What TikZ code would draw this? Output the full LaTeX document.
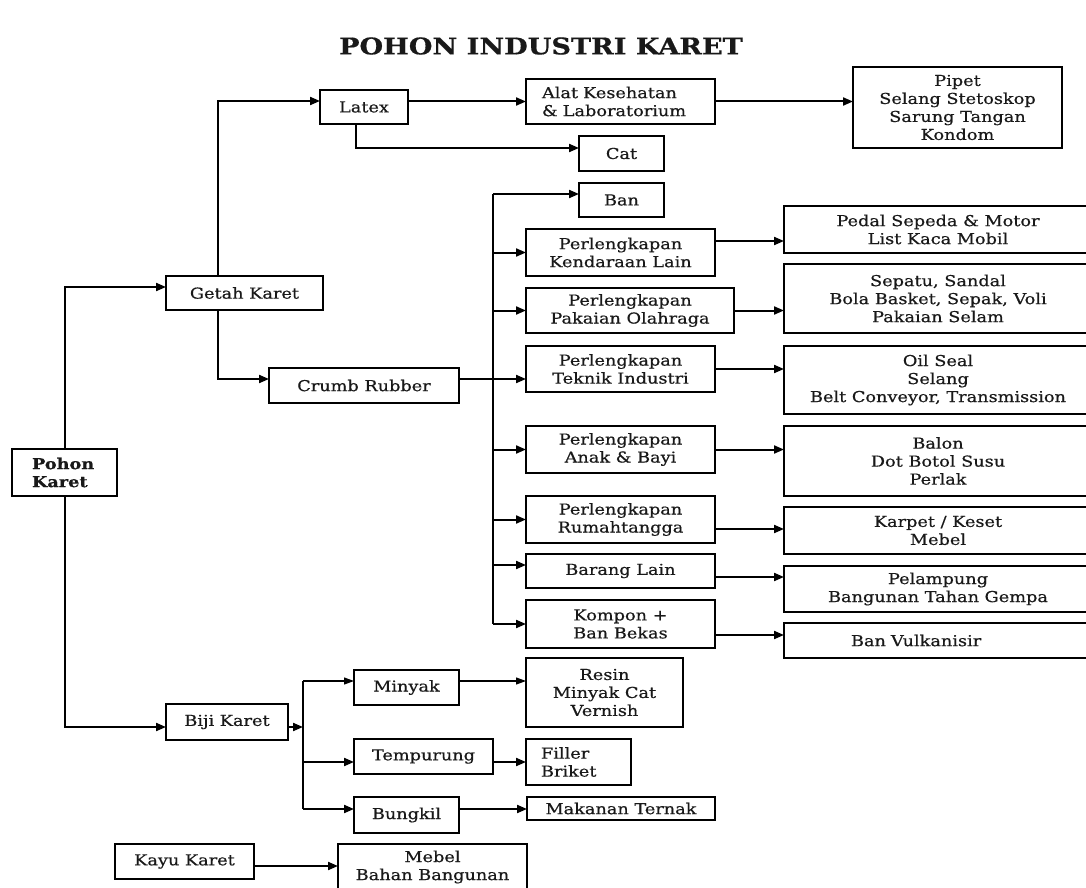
\documentclass[tikz,border=0pt]{standalone}
\usepackage{fontspec}
\setmainfont{DejaVu Serif}[FakeStretch=1.18, FakeBold=0.6]
\usetikzlibrary{arrows.meta}
\begin{document}
\begin{tikzpicture}[x=1pt,y=-1pt,
  box/.style={draw=black, line width=1.7pt, rectangle, inner sep=0pt, outer sep=0pt,
    align=center, font=\fontsize{15}{18}\selectfont, text=black!90},
  conn/.style={line width=2pt, -{Triangle[length=10pt,width=8pt]}},
  slim/.style={line width=1.1pt, -{Triangle[length=10pt,width=7pt]}},
  bus/.style={line width=2pt},
  slimbus/.style={line width=1.1pt},
]
\useasboundingbox (0,0) rectangle (1086,888);
\clip (0,0) rectangle (1086,888);

% title
\node[font=\fontsize{23}{26}\selectfont\bfseries, text=black!90] (title) at (541,46) {POHON INDUSTRI KARET};

% left column
\node[box, minimum width=105pt, minimum height=47pt, text width=65pt, align=left, font=\fontsize{15}{18}\selectfont\bfseries] (pohon) at (64.5,472.5) {Pohon\\Karet};
\node[box, minimum width=157pt, minimum height=34pt] (getah) at (244.5,293) {Getah Karet};
\node[box, minimum width=122pt, minimum height=36pt] (biji) at (227,722) {Biji Karet};
\node[box, minimum width=139pt, minimum height=35pt] (kayu) at (184.5,861.5) {Kayu Karet};

% second level
\node[box, minimum width=88pt, minimum height=34pt] (latex) at (364,107) {Latex};
\node[box, minimum width=190pt, minimum height=35pt] (crumb) at (364,385.5) {Crumb Rubber};
\node[box, minimum width=105pt, minimum height=35pt] (minyak) at (406.5,687.5) {Minyak};
\node[box, minimum width=139pt, minimum height=35pt] (tempurung) at (423.5,756.5) {Tempurung};
\node[box, minimum width=105pt, minimum height=36pt] (bungkil) at (406.5,815) {Bungkil};
\node[box, minimum width=189pt, minimum height=46pt] (mebel) at (432.5,867) {Mebel\\Bahan Bangunan};

% third level
\node[box, minimum width=189pt, minimum height=45pt, text width=157pt, align=left] (alat) at (620.5,101.5) {Alat Kesehatan\\\& Laboratorium};
\node[box, minimum width=85pt, minimum height=35pt] (cat) at (621.5,153.5) {Cat};
\node[box, minimum width=85pt, minimum height=34pt] (ban) at (621.5,200) {Ban};
\node[box, minimum width=189pt, minimum height=47pt] (kend) at (620.5,252.5) {Perlengkapan\\Kendaraan Lain};
\node[box, minimum width=208pt, minimum height=45pt] (pak) at (630,310.5) {Perlengkapan\\Pakaian Olahraga};
\node[box, minimum width=189pt, minimum height=46pt] (tek) at (620.5,369) {Perlengkapan\\Teknik Industri};
\node[box, minimum width=189pt, minimum height=47pt] (anak) at (620.5,449.5) {Perlengkapan\\Anak \& Bayi};
\node[box, minimum width=189pt, minimum height=47pt] (rumah) at (620.5,519.5) {Perlengkapan\\Rumahtangga};
\node[box, minimum width=189pt, minimum height=34pt] (barang) at (620.5,571) {Barang Lain};
\node[box, minimum width=189pt, minimum height=48pt] (kompon) at (620.5,624) {Kompon +\\Ban Bekas};
\node[box, minimum width=157pt, minimum height=69pt] (resin) at (604.5,692.5) {Resin\\Minyak Cat\\Vernish};
\node[box, minimum width=105pt, minimum height=46pt, text width=75pt, align=left] (filler) at (578.5,762) {Filler\\Briket};
\node[box, minimum width=188pt, minimum height=23pt] (makanan) at (621,808.5) {Makanan Ternak};

% right column
\node[box, minimum width=209pt, minimum height=81pt] (pipet) at (957.5,107.5) {Pipet\\Selang Stetoskop\\Sarung Tangan\\Kondom};
\node[box, minimum width=308pt, minimum height=47pt] (pedal) at (938,229.5) {Pedal Sepeda \& Motor\\List Kaca Mobil};
\node[box, minimum width=308pt, minimum height=69pt] (sepatu) at (938,298.5) {Sepatu, Sandal\\Bola Basket, Sepak, Voli\\Pakaian Selam};
\node[box, minimum width=308pt, minimum height=68pt] (oil) at (938,380) {Oil Seal\\Selang\\Belt Conveyor, Transmission};
\node[box, minimum width=308pt, minimum height=70pt] (balon) at (938,461) {Balon\\Dot Botol Susu\\Perlak};
\node[box, minimum width=308pt, minimum height=47pt] (karpet) at (938,530.5) {Karpet / Keset\\Mebel};
\node[box, minimum width=308pt, minimum height=46pt] (pelampung) at (938,589) {Pelampung\\Bangunan Tahan Gempa};
\node[box, minimum width=308pt, minimum height=35pt, text width=250pt, align=left] (vulk) at (938,640.5) {\hspace*{38pt}Ban Vulkanisir};

% trunk coordinates
\coordinate (cb) at (493,0);
\coordinate (bb) at (303,0);

% Pohon Karet
\draw[conn] (pohon.north) |- ([yshift=6pt]getah.west);
\draw[conn] (pohon.south) |- ([yshift=-5pt]biji.west);

% Getah Karet
\draw[conn] ([xshift=-26.5pt]getah.north) |- ([yshift=6pt]latex.west);
\draw[conn] ([xshift=-26.5pt]getah.south) |- ([yshift=6.5pt]crumb.west);

% Latex
\draw[conn] (latex.east |- alat.west) -- (alat.west);
\draw[conn] ([xshift=-8pt]latex.south) |- ([yshift=5.5pt]cat.west);
\draw[conn] (alat.east) -- (alat.east -| pipet.west);

% Crumb rubber bus
\coordinate (banIn) at ([yshift=6pt]ban.west);
\coordinate (tekIn) at ([yshift=-10pt]tek.west);
\coordinate (barIn) at ([yshift=6pt]barang.west);
\draw[bus] (cb |- banIn) -- (cb |- kompon.west);
\draw[conn] (cb |- banIn) -- (banIn);
\draw[conn] (cb |- kend.west) -- (kend.west);
\draw[conn] (cb |- pak.west) -- (pak.west);
\draw[conn] ([yshift=6.5pt]crumb.east) -- (tekIn);
\draw[conn] (cb |- anak.west) -- (anak.west);
\draw[conn] (cb |- rumah.west) -- (rumah.west);
\draw[conn] (cb |- barIn) -- (barIn);
\draw[conn] (cb |- kompon.west) -- (kompon.west);

% products
\coordinate (kendOut) at ([yshift=11.5pt]kend.east);
\coordinate (rumOut) at ([yshift=-9.5pt]rumah.east);
\coordinate (barOut) at ([yshift=-6pt]barang.east);
\coordinate (komOut) at ([yshift=-11pt]kompon.east);
\draw[conn] (kendOut) -- (kendOut -| pedal.west);
\draw[conn] (pak.east) -- (pak.east -| sepatu.west);
\draw[conn] (tek.east) -- (tek.east -| oil.west);
\draw[conn] (anak.east) -- (anak.east -| balon.west);
\draw[conn] (rumOut) -- (rumOut -| karpet.west);
\draw[conn] (barOut) -- (barOut -| pelampung.west);
\draw[conn] (komOut) -- (komOut -| vulk.west);

% Biji karet
\coordinate (bijiOut) at ([yshift=-5pt]biji.east);
\coordinate (minIn) at ([yshift=6.5pt]minyak.west);
\coordinate (minOut) at ([yshift=6.5pt]minyak.east);
\coordinate (temIn) at ([yshift=-5.5pt]tempurung.west);
\coordinate (temOut) at ([yshift=-5.5pt]tempurung.east);
\coordinate (bunIn) at ([yshift=6pt]bungkil.west);
\coordinate (bunOut) at ([yshift=6pt]bungkil.east);
\draw[conn] (bijiOut) -- (bijiOut -| bb);
\draw[bus] (bb |- temIn) -- (bb |- bunIn);
\draw[slimbus] (bb |- minIn) -- (bb |- temIn);
\draw[slim] (bb |- minIn) -- (minIn);
\draw[conn] (bb |- temIn) -- (temIn);
\draw[conn] (bb |- bunIn) -- (bunIn);
\draw[slim] (minOut) -- (minOut -| resin.west);
\draw[conn] (temOut) -- (temOut -| filler.west);
\draw[conn] (bunOut) -- (bunOut -| makanan.west);

% Kayu karet
\coordinate (kayuOut) at ([yshift=-4.5pt]kayu.east);
\draw[conn] (kayuOut) -- (kayuOut -| mebel.west);
\end{tikzpicture}
\end{document}
